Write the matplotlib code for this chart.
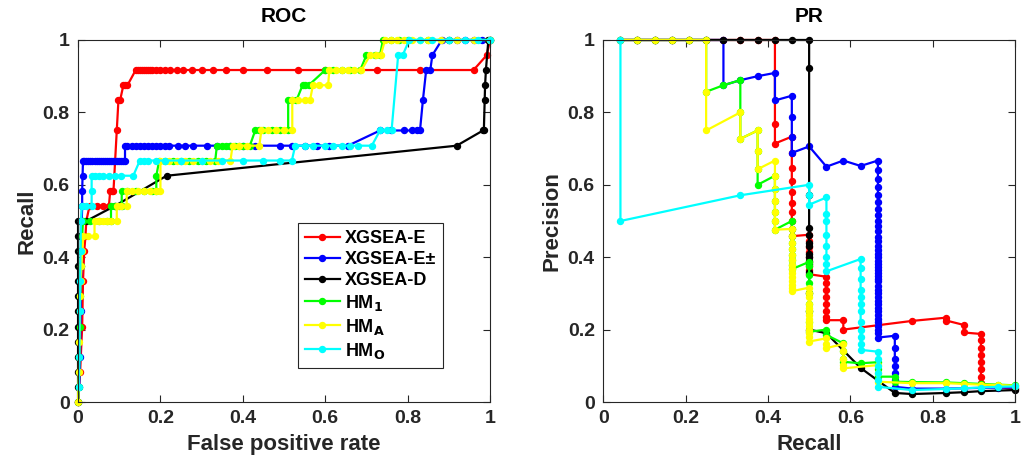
import matplotlib
matplotlib.use("Agg")
import matplotlib.pyplot as plt

plt.rcParams['font.family'] = ['Liberation Sans', 'DejaVu Sans']
plt.rcParams['font.weight'] = 'bold'
plt.rcParams['mathtext.default'] = 'bf'

names = ['XGSEA-E', 'XGSEA-E\u00b1', 'XGSEA-D', 'HM$_1$', 'HM$_A$', 'HM$_O$']
colors = ['#ff0000', '#0000ff', '#000000', '#00ff00', '#ffff00', '#00ffff']

# ROC curves: (false positive rate, recall)
roc_red = [(0, 0), (0.005, 0.083), (0.01, 0.208), (0.012, 0.333), (0.015, 0.417), (0.018, 0.458),
           (0.02, 0.5), (0.028, 0.542), (0.045, 0.542), (0.06, 0.542), (0.075, 0.542), (0.078, 0.583),
           (0.082, 0.583), (0.086, 0.583), (0.094, 0.75), (0.098, 0.833), (0.102, 0.833), (0.11, 0.875),
           (0.114, 0.875), (0.12, 0.875), (0.14, 0.917), (0.145, 0.917), (0.15, 0.917), (0.155, 0.917),
           (0.16, 0.917), (0.165, 0.917), (0.17, 0.917), (0.175, 0.917), (0.18, 0.917), (0.19, 0.917),
           (0.2, 0.917), (0.21, 0.917), (0.223, 0.917), (0.24, 0.917), (0.255, 0.917), (0.276, 0.917),
           (0.3, 0.917), (0.328, 0.917), (0.36, 0.917), (0.4, 0.917), (0.458, 0.917), (0.535, 0.917),
           (0.6, 0.917), (0.725, 0.917), (0.83, 0.917), (0.96, 0.917), (0.992, 0.958), (1.0, 1.0)]
roc_blue = [(0, 0), (0.003, 0.042), (0.005, 0.125), (0.006, 0.25), (0.008, 0.375), (0.008, 0.458),
            (0.009, 0.5), (0.01, 0.542), (0.01, 0.583), (0.011, 0.625), (0.012, 0.667), (0.015, 0.667),
            (0.02, 0.667), (0.025, 0.667), (0.03, 0.667), (0.035, 0.667), (0.04, 0.667), (0.045, 0.667),
            (0.05, 0.667), (0.055, 0.667), (0.06, 0.667), (0.065, 0.667), (0.07, 0.667), (0.075, 0.667),
            (0.08, 0.667), (0.085, 0.667), (0.09, 0.667), (0.095, 0.667), (0.1, 0.667), (0.105, 0.667),
            (0.11, 0.667), (0.114, 0.667), (0.114, 0.708), (0.12, 0.708), (0.13, 0.708), (0.14, 0.708),
            (0.15, 0.708), (0.16, 0.708), (0.17, 0.708), (0.18, 0.708), (0.19, 0.708), (0.2, 0.708),
            (0.21, 0.708), (0.22, 0.708), (0.243, 0.708), (0.26, 0.708), (0.28, 0.708), (0.313, 0.708),
            (0.337, 0.708), (0.37, 0.708), (0.4, 0.708), (0.43, 0.708), (0.49, 0.708), (0.52, 0.708),
            (0.55, 0.708), (0.58, 0.708), (0.61, 0.708), (0.655, 0.708), (0.733, 0.75), (0.76, 0.75),
            (0.79, 0.75), (0.81, 0.75), (0.822, 0.75), (0.83, 0.75), (0.837, 0.833), (0.845, 0.917),
            (0.855, 0.917), (0.86, 0.958), (0.883, 1.0), (0.9, 1.0), (0.92, 1.0), (0.94, 1.0),
            (0.96, 1.0), (0.98, 1.0), (1.0, 1.0)]
roc_black = [(0, 0), (0, 0.042), (0, 0.083), (0, 0.125), (0, 0.167), (0, 0.208), (0, 0.25), (0, 0.292),
             (0, 0.333), (0, 0.375), (0, 0.417), (0, 0.458), (0, 0.5), (0.02, 0.5), (0.09, 0.542),
             (0.215, 0.625), (0.919, 0.708), (0.983, 0.75), (0.985, 0.75), (0.987, 0.833),
             (0.988, 0.875), (0.99, 0.917), (0.996, 1.0), (1.0, 1.0)]
roc_green = [(0, 0), (0.002, 0.042), (0.003, 0.125), (0.004, 0.208), (0.005, 0.292), (0.006, 0.375),
             (0.008, 0.417), (0.01, 0.458), (0.012, 0.5), (0.03, 0.5), (0.05, 0.5), (0.07, 0.5),
             (0.08, 0.5), (0.08, 0.542), (0.09, 0.542), (0.1, 0.542), (0.106, 0.542), (0.106, 0.583),
             (0.12, 0.583), (0.14, 0.583), (0.16, 0.583), (0.18, 0.583), (0.19, 0.583), (0.19, 0.625),
             (0.197, 0.667), (0.21, 0.667), (0.23, 0.667), (0.25, 0.667), (0.27, 0.667), (0.29, 0.667),
             (0.31, 0.667), (0.333, 0.667), (0.337, 0.708), (0.35, 0.708), (0.36, 0.708), (0.37, 0.708),
             (0.38, 0.708), (0.39, 0.708), (0.4, 0.708), (0.417, 0.708), (0.43, 0.75), (0.44, 0.75),
             (0.45, 0.75), (0.47, 0.75), (0.49, 0.75), (0.51, 0.75), (0.51, 0.833), (0.52, 0.833),
             (0.53, 0.833), (0.545, 0.875), (0.55, 0.875), (0.56, 0.875), (0.6, 0.917), (0.62, 0.917),
             (0.64, 0.917), (0.66, 0.917), (0.685, 0.917), (0.7, 0.958), (0.72, 0.958), (0.733, 0.958),
             (0.74, 1.0), (0.76, 1.0), (0.78, 1.0), (0.8, 1.0), (0.85, 1.0), (0.9, 1.0), (1.0, 1.0)]
roc_yellow = [(0, 0), (0.002, 0.083), (0.003, 0.167), (0.004, 0.25), (0.005, 0.292), (0.006, 0.333),
              (0.008, 0.375), (0.01, 0.417), (0.013, 0.458), (0.025, 0.458), (0.04, 0.458), (0.04, 0.5),
              (0.05, 0.5), (0.06, 0.5), (0.07, 0.5), (0.08, 0.5), (0.094, 0.5), (0.094, 0.542),
              (0.105, 0.542), (0.118, 0.542), (0.118, 0.583), (0.13, 0.583), (0.145, 0.583),
              (0.16, 0.583), (0.175, 0.583), (0.19, 0.583), (0.2, 0.583), (0.2, 0.667), (0.22, 0.667),
              (0.24, 0.667), (0.26, 0.667), (0.28, 0.667), (0.3, 0.667), (0.32, 0.667), (0.34, 0.667),
              (0.37, 0.667), (0.375, 0.708), (0.39, 0.708), (0.41, 0.708), (0.44, 0.708), (0.445, 0.75),
              (0.46, 0.75), (0.48, 0.75), (0.5, 0.75), (0.52, 0.75), (0.52, 0.833), (0.535, 0.833),
              (0.55, 0.833), (0.563, 0.833), (0.57, 0.875), (0.585, 0.875), (0.607, 0.875),
              (0.61, 0.917), (0.625, 0.917), (0.64, 0.917), (0.655, 0.917), (0.67, 0.917),
              (0.688, 0.917), (0.709, 0.958), (0.722, 0.958), (0.735, 0.958), (0.745, 1.0), (0.76, 1.0),
              (0.775, 1.0), (0.79, 1.0), (0.81, 1.0), (0.83, 1.0), (0.85, 1.0), (0.88, 1.0),
              (0.92, 1.0), (0.96, 1.0), (1.0, 1.0)]
roc_cyan = [(0.002, 0.042), (0.003, 0.125), (0.004, 0.25), (0.005, 0.333), (0.006, 0.417),
            (0.007, 0.5), (0.009, 0.542), (0.02, 0.542), (0.033, 0.542), (0.033, 0.583),
            (0.033, 0.625), (0.04, 0.625), (0.05, 0.625), (0.06, 0.625), (0.075, 0.625),
            (0.09, 0.625), (0.105, 0.625), (0.134, 0.625), (0.15, 0.667), (0.16, 0.667),
            (0.17, 0.667), (0.19, 0.667), (0.21, 0.667), (0.25, 0.667), (0.3, 0.667), (0.35, 0.667),
            (0.4, 0.667), (0.45, 0.667), (0.49, 0.667), (0.519, 0.667), (0.527, 0.708),
            (0.55, 0.708), (0.57, 0.708), (0.6, 0.708), (0.62, 0.708), (0.64, 0.708), (0.66, 0.708),
            (0.68, 0.708), (0.713, 0.708), (0.733, 0.75), (0.75, 0.75), (0.761, 0.75),
            (0.777, 0.958), (0.788, 0.958), (0.804, 1.0), (0.83, 1.0), (0.86, 1.0), (0.9, 1.0),
            (0.94, 1.0), (0.97, 1.0), (1.0, 1.0)]

# PR curves: (recall, precision)
top = [(0.042, 1), (0.083, 1), (0.125, 1), (0.167, 1), (0.208, 1), (0.25, 1)]
pr_red = top + [(0.292, 1), (0.333, 1), (0.375, 1), (0.417, 1), (0.417, 0.769), (0.417, 0.714),
                (0.458, 0.733), (0.458, 0.688), (0.458, 0.647), (0.458, 0.611), (0.458, 0.579),
                (0.458, 0.55), (0.458, 0.524), (0.458, 0.5), (0.458, 0.478), (0.458, 0.458),
                (0.5, 0.462), (0.5, 0.444), (0.5, 0.429), (0.5, 0.414), (0.5, 0.4), (0.5, 0.387),
                (0.5, 0.375), (0.5, 0.364), (0.5, 0.353), (0.542, 0.346), (0.542, 0.33),
                (0.542, 0.31), (0.542, 0.29), (0.542, 0.27), (0.542, 0.25), (0.542, 0.236),
                (0.542, 0.226), (0.583, 0.226), (0.583, 0.2), (0.75, 0.224), (0.833, 0.233),
                (0.833, 0.225), (0.875, 0.213), (0.875, 0.192), (0.917, 0.188), (0.917, 0.17),
                (0.917, 0.15), (0.917, 0.13), (0.917, 0.11), (0.917, 0.09), (0.917, 0.07),
                (0.917, 0.052), (0.958, 0.042), (1.0, 0.035)]
pr_blue = top + [(0.292, 1), (0.292, 0.875), (0.333, 0.889), (0.375, 0.9), (0.417, 0.909),
                 (0.417, 0.833), (0.458, 0.846), (0.458, 0.786), (0.458, 0.733), (0.458, 0.688),
                 (0.5, 0.706), (0.542, 0.65), (0.583, 0.667), (0.625, 0.652), (0.667, 0.667),
                 (0.667, 0.64), (0.667, 0.615), (0.667, 0.593), (0.667, 0.571), (0.667, 0.552),
                 (0.667, 0.533), (0.667, 0.516), (0.667, 0.5), (0.667, 0.485), (0.667, 0.471),
                 (0.667, 0.457), (0.667, 0.444), (0.667, 0.432), (0.667, 0.421), (0.667, 0.41),
                 (0.667, 0.4), (0.667, 0.39), (0.667, 0.381), (0.667, 0.372), (0.667, 0.364),
                 (0.667, 0.356), (0.667, 0.348), (0.667, 0.34), (0.667, 0.333), (0.667, 0.32),
                 (0.667, 0.31), (0.667, 0.3), (0.667, 0.29), (0.667, 0.28), (0.667, 0.27),
                 (0.667, 0.26), (0.667, 0.25), (0.667, 0.24), (0.667, 0.23), (0.667, 0.22),
                 (0.667, 0.21), (0.667, 0.2), (0.667, 0.19), (0.667, 0.178), (0.708, 0.183),
                 (0.708, 0.15), (0.708, 0.12), (0.708, 0.1), (0.708, 0.08), (0.708, 0.06),
                 (0.708, 0.042), (0.75, 0.037), (0.833, 0.037), (0.875, 0.038), (0.917, 0.039),
                 (0.958, 0.04), (1.0, 0.04)]
pr_black = top + [(0.292, 1), (0.333, 1), (0.375, 1), (0.417, 1), (0.458, 1), (0.5, 1),
                  (0.5, 0.923), (0.5, 0.571), (0.5, 0.48), (0.5, 0.46), (0.5, 0.44), (0.5, 0.43),
                  (0.5, 0.41), (0.5, 0.4), (0.5, 0.39), (0.5, 0.38), (0.5, 0.36), (0.5, 0.3),
                  (0.5, 0.25), (0.5, 0.2), (0.542, 0.19), (0.625, 0.094), (0.708, 0.025),
                  (0.75, 0.022), (0.833, 0.025), (0.875, 0.027), (0.917, 0.03), (1.0, 0.033)]
pr_green = top + [(0.25, 0.857), (0.292, 0.875), (0.333, 0.889), (0.333, 0.8), (0.333, 0.727),
                  (0.375, 0.75), (0.375, 0.692), (0.375, 0.643), (0.375, 0.6), (0.417, 0.625),
                  (0.417, 0.588), (0.417, 0.556), (0.417, 0.526), (0.417, 0.5), (0.417, 0.476),
                  (0.458, 0.5), (0.458, 0.478), (0.458, 0.459), (0.458, 0.44), (0.458, 0.423),
                  (0.458, 0.407), (0.458, 0.393), (0.458, 0.379), (0.458, 0.367), (0.5, 0.387),
                  (0.5, 0.375), (0.5, 0.35), (0.5, 0.33), (0.5, 0.3), (0.5, 0.27), (0.5, 0.25),
                  (0.5, 0.22), (0.5, 0.194), (0.542, 0.2), (0.542, 0.185), (0.583, 0.162),
                  (0.583, 0.14), (0.583, 0.12), (0.583, 0.111), (0.625, 0.107), (0.667, 0.11),
                  (0.667, 0.09), (0.667, 0.07), (0.708, 0.07), (0.708, 0.056), (0.75, 0.055),
                  (0.833, 0.054), (0.875, 0.052), (0.917, 0.05), (0.958, 0.048), (1.0, 0.046)]
pr_yellow = top + [(0.25, 0.857), (0.25, 0.75), (0.333, 0.8), (0.333, 0.727), (0.375, 0.75),
                   (0.375, 0.692), (0.375, 0.643), (0.417, 0.667), (0.417, 0.625), (0.417, 0.588),
                   (0.417, 0.556), (0.417, 0.526), (0.417, 0.5), (0.417, 0.476), (0.458, 0.478),
                   (0.458, 0.458), (0.458, 0.44), (0.458, 0.423), (0.458, 0.407), (0.458, 0.393),
                   (0.458, 0.379), (0.458, 0.367), (0.458, 0.355), (0.458, 0.344), (0.458, 0.333),
                   (0.458, 0.324), (0.458, 0.314), (0.458, 0.306), (0.5, 0.316), (0.5, 0.3),
                   (0.5, 0.29), (0.5, 0.27), (0.5, 0.26), (0.5, 0.25), (0.5, 0.24), (0.5, 0.23),
                   (0.5, 0.22), (0.5, 0.21), (0.5, 0.2), (0.5, 0.19), (0.5, 0.18), (0.5, 0.167),
                   (0.542, 0.176), (0.542, 0.16), (0.542, 0.149), (0.583, 0.16), (0.583, 0.14),
                   (0.583, 0.12), (0.583, 0.102), (0.583, 0.093), (0.667, 0.102), (0.667, 0.08),
                   (0.667, 0.056), (0.75, 0.052), (0.833, 0.052), (0.875, 0.05), (0.917, 0.048),
                   (0.958, 0.047), (1.0, 0.045)]
pr_cyan = [(0.042, 1), (0.042, 0.5), (0.333, 0.571), (0.5, 0.6), (0.5, 0.571), (0.5, 0.545),
           (0.542, 0.565), (0.542, 0.52), (0.542, 0.5), (0.542, 0.46), (0.542, 0.43), (0.542, 0.4),
           (0.542, 0.38), (0.542, 0.361), (0.625, 0.395), (0.625, 0.37), (0.625, 0.34),
           (0.625, 0.31), (0.625, 0.29), (0.625, 0.27), (0.625, 0.25), (0.625, 0.22),
           (0.625, 0.2), (0.625, 0.18), (0.625, 0.16), (0.625, 0.144), (0.667, 0.139),
           (0.667, 0.12), (0.667, 0.1), (0.667, 0.08), (0.667, 0.06), (0.667, 0.042),
           (0.75, 0.033), (0.833, 0.036), (0.875, 0.038), (0.917, 0.04), (0.958, 0.042),
           (1.0, 0.043)]

roc_curves = [roc_red, roc_blue, roc_black, roc_green, roc_yellow, roc_cyan]
pr_curves = [pr_red, pr_blue, pr_black, pr_green, pr_yellow, pr_cyan]

fig = plt.figure(figsize=(10.31, 4.72), dpi=100)
ax1 = fig.add_axes([0.0757, 0.1483, 0.3996, 0.767])
ax2 = fig.add_axes([0.585, 0.1483, 0.3996, 0.767])

def style(ax):
    ax.set_xlim(0, 1)
    ax.set_ylim(0, 1)
    ax.set_xticks([0, 0.2, 0.4, 0.6, 0.8, 1])
    ax.set_xticklabels(['0', '0.2', '0.4', '0.6', '0.8', '1'])
    ax.set_yticks([0, 0.2, 0.4, 0.6, 0.8, 1])
    ax.set_yticklabels(['0', '0.2', '0.4', '0.6', '0.8', '1'])
    ax.tick_params(direction='in', top=True, right=True, length=5, width=0.8,
                   labelsize=14, colors='#262626', pad=6)
    for s in ax.spines.values():
        s.set_color('#262626')
        s.set_linewidth(0.8)
    for lab in ax.get_xticklabels() + ax.get_yticklabels():
        lab.set_fontweight('bold')

for pts, c, n in zip(roc_curves, colors, names):
    xs, ys = zip(*pts)
    ax1.plot(xs, ys, '-o', color=c, lw=1.6, ms=4.3, label=n, clip_on=False)
for pts, c, n in zip(pr_curves, colors, names):
    xs, ys = zip(*pts)
    ax2.plot(xs, ys, '-o', color=c, lw=1.6, ms=4.3, label=n, clip_on=False)

style(ax1)
style(ax2)
ax1.set_title('ROC', fontsize=15, fontweight='bold', pad=13)
ax2.set_title('PR', fontsize=15, fontweight='bold', pad=13)
ax1.set_xlabel('False positive rate', fontsize=16, fontweight='bold', color='#262626', labelpad=5)
ax1.set_ylabel('Recall', fontsize=16, fontweight='bold', color='#262626')
ax2.set_xlabel('Recall', fontsize=16, fontweight='bold', color='#262626', labelpad=5)
ax2.set_ylabel('Precision', fontsize=16, fontweight='bold', color='#262626')

leg = ax1.legend(loc='lower left', bbox_to_anchor=(0.534, 0.094), borderaxespad=0,
                 frameon=True, fancybox=False, framealpha=1, edgecolor='#262626',
                 handlelength=1.9, handletextpad=0.3, labelspacing=0.22,
                 borderpad=0.4, prop={'weight': 'bold', 'size': 13})
leg.get_frame().set_linewidth(0.8)

fig.savefig('out.png', dpi=100)
